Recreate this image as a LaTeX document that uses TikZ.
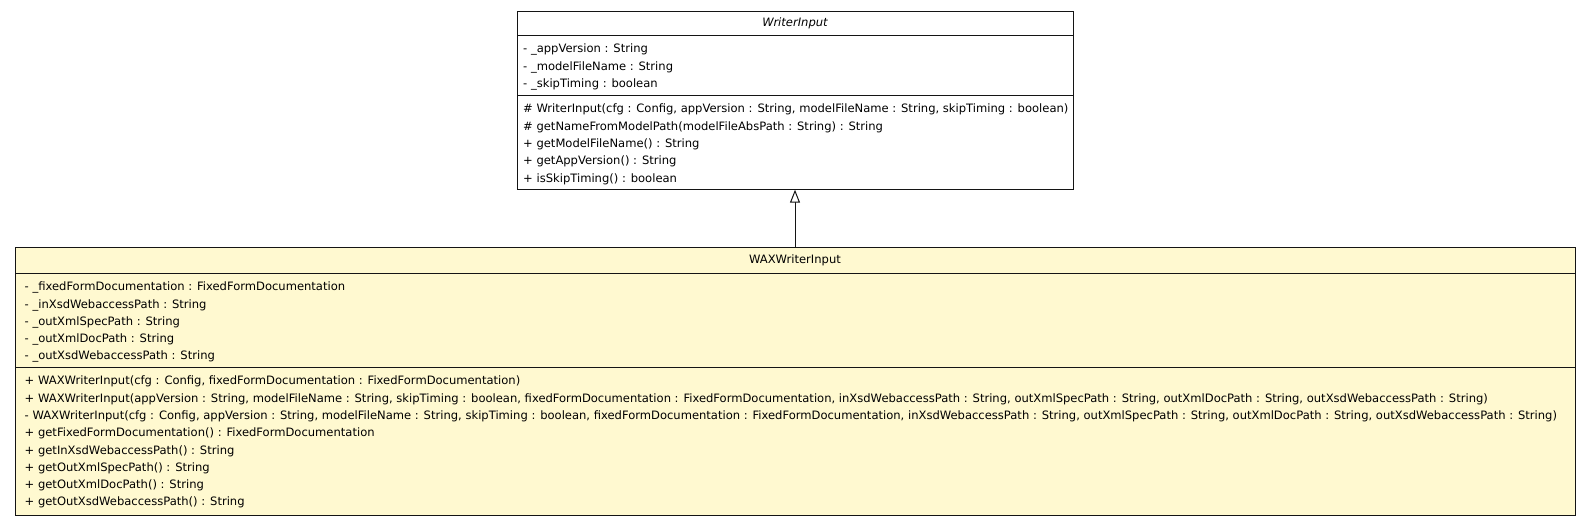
\documentclass[tikz,border=0pt]{standalone}
\usepackage{fontspec}
\setmainfont{DejaVu Sans}
\usetikzlibrary{arrows.meta,positioning}
\definecolor{classyellow}{RGB}{255,249,208}
\definecolor{classedge}{RGB}{20,20,20}

\begin{document}
\begin{tikzpicture}[x=1pt,y=-1pt,
 part/.style={rectangle,draw=classedge,line width=1pt,inner sep=0pt,outer sep=0pt,anchor=north,
   font=\fontsize{11.55}{17.3}\selectfont},
 members/.style={inner sep=0pt,align=left,anchor=west,font=\fontsize{11.55}{17.3}\selectfont},
 inherit/.style={-{Triangle[open,length=13pt,width=10pt,fill=white]},line width=1pt,draw=classedge}
]
\useasboundingbox (0,0) rectangle (1591,527);
% superclass
\node[part,minimum width=556pt,minimum height=24pt] (writerTitle) at (795,11.2) {\itshape WriterInput};
\node[part,minimum width=556pt,minimum height=60.8pt,below=0pt of writerTitle] (writerAttr) {};
\node[part,minimum width=556pt,minimum height=93.7pt,below=0pt of writerAttr] (writerOps) {};
\node[members] (writerAttrText) at ([xshift=6pt,yshift=-1.5pt]writerAttr.west)
 {- \_appVersion : String\\- \_modelFileName : String\\- \_skipTiming : boolean};
\node[members] (writerOpsText) at ([xshift=6pt,yshift=-1.5pt]writerOps.west)
 {\# WriterInput(cfg : Config, appVersion : String, modelFileName : String, skipTiming : boolean)\\
  \# getNameFromModelPath(modelFileAbsPath : String) : String\\
  + getModelFileName() : String\\
  + getAppVersion() : String\\
  + isSkipTiming() : boolean};
% subclass
\node[part,fill=classyellow,minimum width=1560pt,minimum height=25.5pt] (waxTitle) at (795,247.6) {WAXWriterInput};
\node[part,fill=classyellow,minimum width=1560pt,minimum height=94.5pt,below=0pt of waxTitle] (waxAttr) {};
\node[part,fill=classyellow,minimum width=1560pt,minimum height=147.9pt,below=0pt of waxAttr] (waxOps) {};
\node[members] (waxAttrText) at ([xshift=9.5pt,yshift=-2pt]waxAttr.west)
 {- \_fixedFormDocumentation : FixedFormDocumentation\\
  - \_inXsdWebaccessPath : String\\
  - \_outXmlSpecPath : String\\
  - \_outXmlDocPath : String\\
  - \_outXsdWebaccessPath : String};
\node[members] (waxOpsText) at ([xshift=9.5pt,yshift=-0.7pt]waxOps.west)
 {+ WAXWriterInput(cfg : Config, fixedFormDocumentation : FixedFormDocumentation)\\
  + WAXWriterInput(appVersion : String, modelFileName : String, skipTiming : boolean, fixedFormDocumentation : FixedFormDocumentation, inXsdWebaccessPath : String, outXmlSpecPath : String, outXmlDocPath : String, outXsdWebaccessPath : String)\\
  - WAXWriterInput(cfg : Config, appVersion : String, modelFileName : String, skipTiming : boolean, fixedFormDocumentation : FixedFormDocumentation, inXsdWebaccessPath : String, outXmlSpecPath : String, outXmlDocPath : String, outXsdWebaccessPath : String)\\
  + getFixedFormDocumentation() : FixedFormDocumentation\\
  + getInXsdWebaccessPath() : String\\
  + getOutXmlSpecPath() : String\\
  + getOutXmlDocPath() : String\\
  + getOutXsdWebaccessPath() : String};
\draw[inherit] (waxTitle.north) -- (writerOps.south);
\end{tikzpicture}
\end{document}
